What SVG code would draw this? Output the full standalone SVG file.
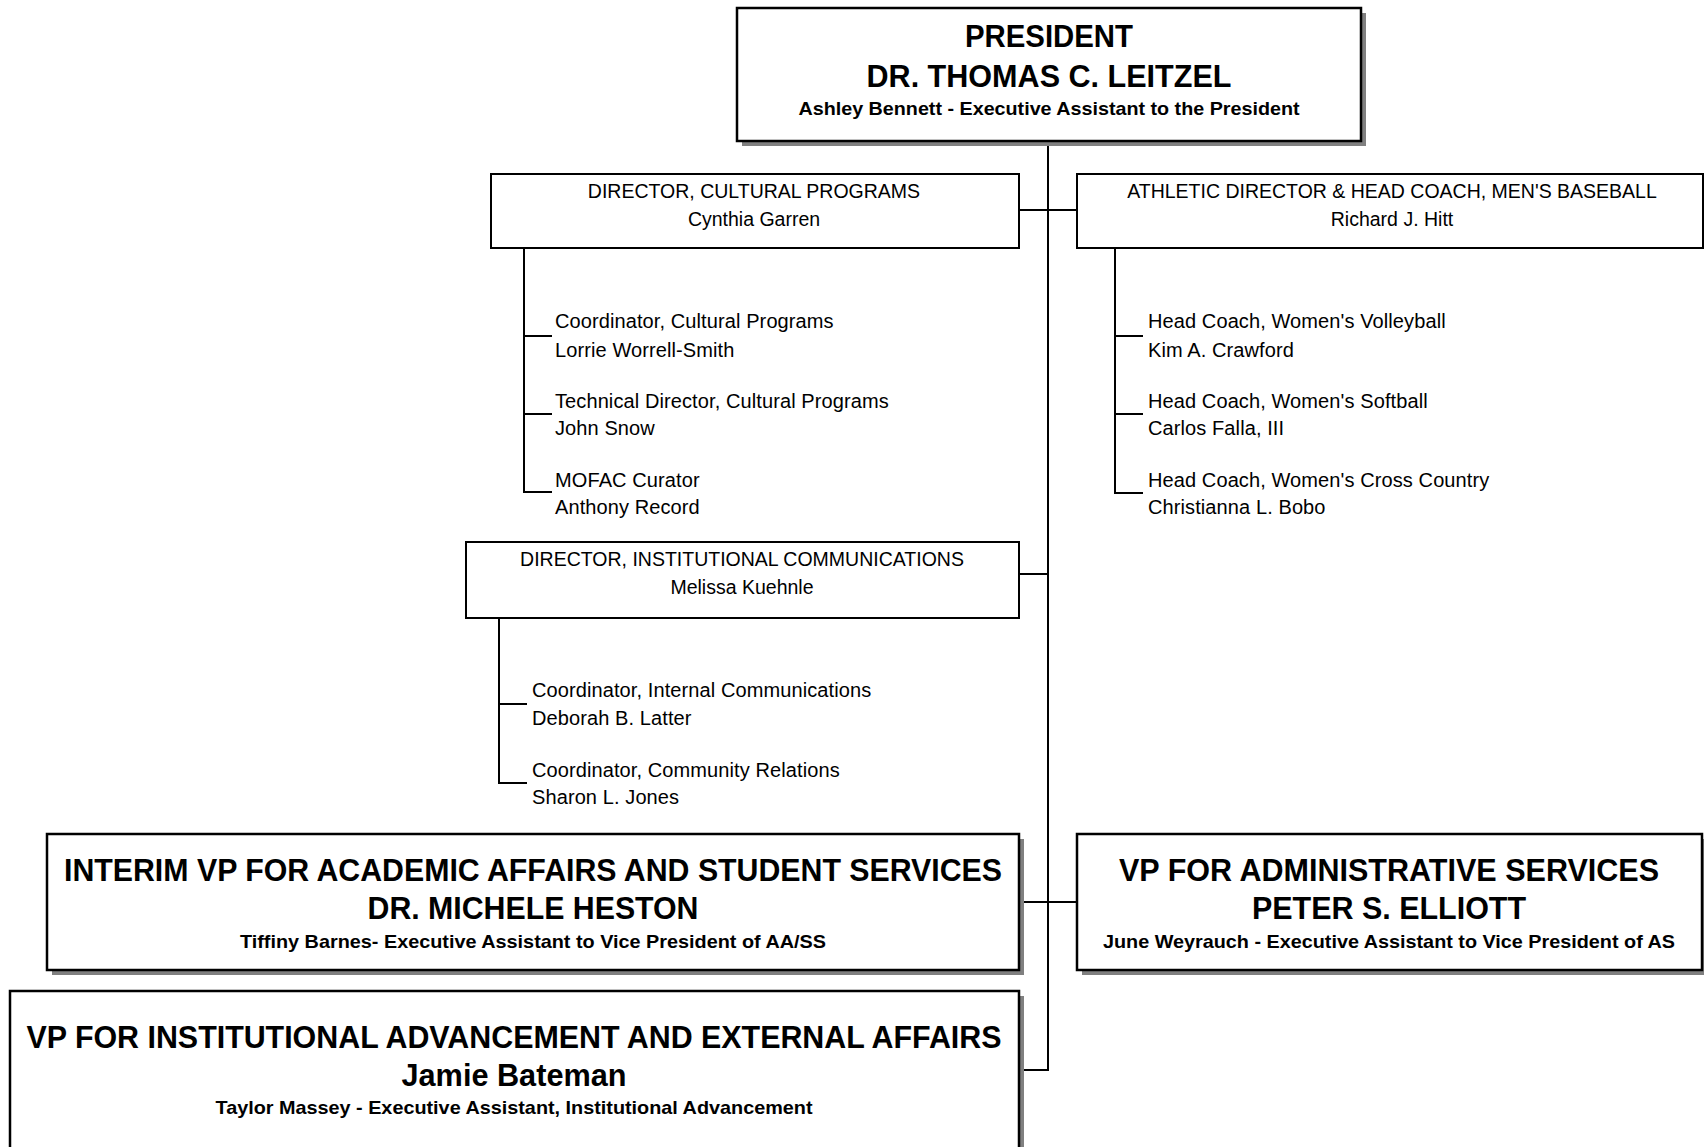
<svg xmlns="http://www.w3.org/2000/svg" width="1704" height="1147" viewBox="0 0 1704 1147">
<style>
.bg{fill:#ffffff}
.shadow{fill:#808080}
.vp{fill:#ffffff;stroke:#000000;stroke-width:2.5}
.dir{fill:#ffffff;stroke:#000000;stroke-width:2}
.conn{fill:none;stroke:#000000;stroke-width:2}
.big{font-family:"Liberation Sans",Arial,sans-serif;font-weight:bold;font-size:31px;text-anchor:middle;fill:#000}
.sub{font-family:"Liberation Sans",Arial,sans-serif;font-weight:bold;font-size:18.5px;text-anchor:middle;fill:#000}
.dt{font-family:"Liberation Sans",Arial,sans-serif;font-size:19.5px;text-anchor:middle;fill:#000}
.ct{font-family:"Liberation Sans",Arial,sans-serif;font-size:20px;letter-spacing:0.1px;fill:#000}
</style>
<rect class="bg" x="0" y="0" width="1704" height="1147"/>
<g id="connectors">
<path class="conn" d="M1048 141 V1070 H1019"/>
<path class="conn" d="M1019 210 H1077"/>
<path class="conn" d="M1019 574 H1048"/>
<path class="conn" d="M1019 902 H1077"/>
<path class="conn" d="M524 248 V492 H552 M524 336 H552 M524 414 H552"/>
<path class="conn" d="M1115 248 V493 H1143 M1115 336 H1143 M1115 414 H1143"/>
<path class="conn" d="M499 618 V783 H527 M499 704 H527"/>
</g>
<g id="president">
<rect class="shadow" x="742" y="13" width="624" height="133"/>
<rect class="vp" x="737" y="8" width="624" height="133"/>
<text class="big" x="1049" y="47" textLength="168" lengthAdjust="spacingAndGlyphs">PRESIDENT</text>
<text class="big" x="1049" y="87" textLength="365" lengthAdjust="spacingAndGlyphs">DR. THOMAS C. LEITZEL</text>
<text class="sub" x="1049" y="115" textLength="501" lengthAdjust="spacingAndGlyphs">Ashley Bennett - Executive Assistant to the President</text>
</g>
<g id="dir-cultural">
<rect class="dir" x="491" y="174" width="528" height="74"/>
<text class="dt" x="754" y="198">DIRECTOR, CULTURAL PROGRAMS</text>
<text class="dt" x="754" y="226">Cynthia Garren</text>
</g>
<g id="dir-athletic">
<rect class="dir" x="1077" y="174" width="626" height="74"/>
<text class="dt" x="1392" y="198">ATHLETIC DIRECTOR &amp; HEAD COACH, MEN'S BASEBALL</text>
<text class="dt" x="1392" y="226">Richard J. Hitt</text>
</g>
<g id="coord-cultural">
<text class="ct" x="555" y="328">Coordinator, Cultural Programs</text>
<text class="ct" x="555" y="357">Lorrie Worrell-Smith</text>
</g>
<g id="tech-director">
<text class="ct" x="555" y="408">Technical Director, Cultural Programs</text>
<text class="ct" x="555" y="435">John Snow</text>
</g>
<g id="mofac-curator">
<text class="ct" x="555" y="487">MOFAC Curator</text>
<text class="ct" x="555" y="514">Anthony Record</text>
</g>
<g id="coach-volleyball">
<text class="ct" x="1148" y="328">Head Coach, Women's Volleyball</text>
<text class="ct" x="1148" y="357">Kim A. Crawford</text>
</g>
<g id="coach-softball">
<text class="ct" x="1148" y="408">Head Coach, Women's Softball</text>
<text class="ct" x="1148" y="435">Carlos Falla, III</text>
</g>
<g id="coach-crosscountry">
<text class="ct" x="1148" y="487">Head Coach, Women's Cross Country</text>
<text class="ct" x="1148" y="514">Christianna L. Bobo</text>
</g>
<g id="dir-communications">
<rect class="dir" x="466" y="542" width="553" height="76"/>
<text class="dt" x="742" y="566">DIRECTOR, INSTITUTIONAL COMMUNICATIONS</text>
<text class="dt" x="742" y="594">Melissa Kuehnle</text>
</g>
<g id="coord-internal">
<text class="ct" x="532" y="697">Coordinator, Internal Communications</text>
<text class="ct" x="532" y="725">Deborah B. Latter</text>
</g>
<g id="coord-community">
<text class="ct" x="532" y="777">Coordinator, Community Relations</text>
<text class="ct" x="532" y="804">Sharon L. Jones</text>
</g>
<g id="vp-academic">
<rect class="shadow" x="52" y="839" width="972" height="136"/>
<rect class="vp" x="47" y="834" width="972" height="136"/>
<text class="big" x="533" y="881" textLength="938" lengthAdjust="spacingAndGlyphs">INTERIM VP FOR ACADEMIC AFFAIRS AND STUDENT SERVICES</text>
<text class="big" x="533" y="919" textLength="331" lengthAdjust="spacingAndGlyphs">DR. MICHELE HESTON</text>
<text class="sub" x="533" y="948" textLength="586" lengthAdjust="spacingAndGlyphs">Tiffiny Barnes- Executive Assistant to Vice President of AA/SS</text>
</g>
<g id="vp-administrative">
<rect class="shadow" x="1082" y="839" width="625" height="136"/>
<rect class="vp" x="1077" y="834" width="625" height="136"/>
<text class="big" x="1389" y="881" textLength="540" lengthAdjust="spacingAndGlyphs">VP FOR ADMINISTRATIVE SERVICES</text>
<text class="big" x="1389" y="919" textLength="274" lengthAdjust="spacingAndGlyphs">PETER S. ELLIOTT</text>
<text class="sub" x="1389" y="948" textLength="572" lengthAdjust="spacingAndGlyphs">June Weyrauch - Executive Assistant to Vice President of AS</text>
</g>
<g id="vp-advancement">
<rect class="shadow" x="15" y="996" width="1009" height="160"/>
<rect class="vp" x="10" y="991" width="1009" height="160"/>
<text class="big" x="514" y="1048" textLength="975" lengthAdjust="spacingAndGlyphs">VP FOR INSTITUTIONAL ADVANCEMENT AND EXTERNAL AFFAIRS</text>
<text class="big" x="514" y="1086" textLength="225" lengthAdjust="spacingAndGlyphs">Jamie Bateman</text>
<text class="sub" x="514" y="1114" textLength="597" lengthAdjust="spacingAndGlyphs">Taylor Massey - Executive Assistant, Institutional Advancement</text>
</g>
</svg>
